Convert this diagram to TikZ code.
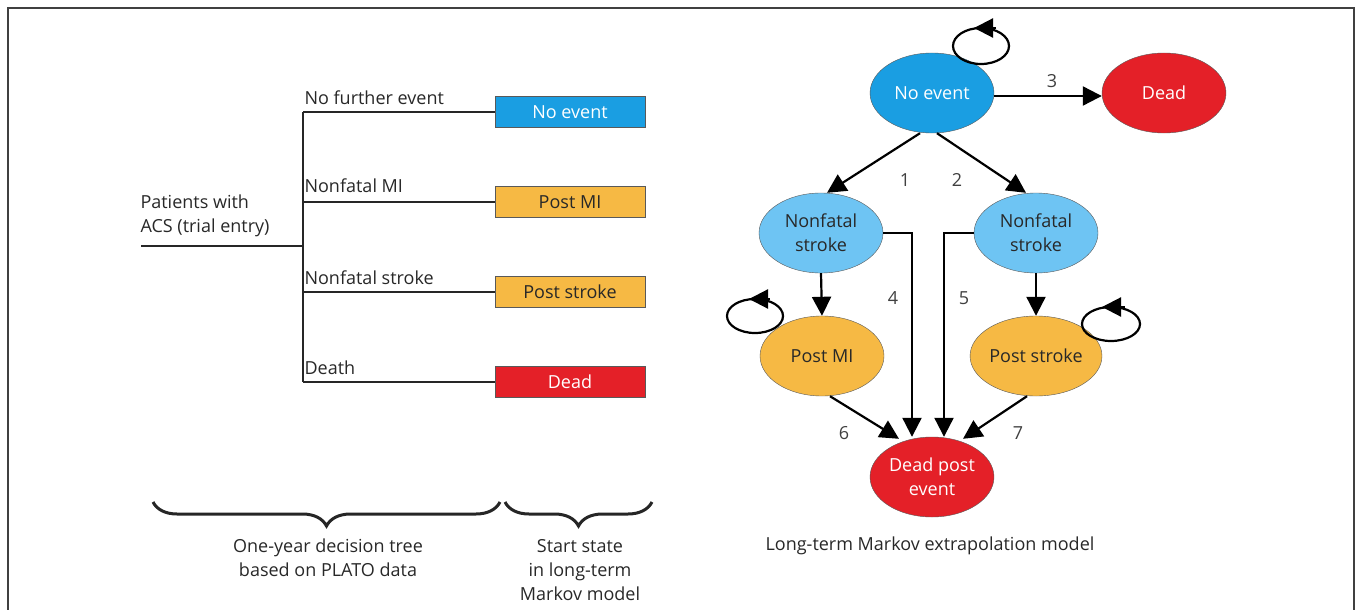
\documentclass[tikz,border=0pt]{standalone}
\usepackage{fontspec}
\setmainfont{Open Sans}
\usetikzlibrary{shapes.geometric,arrows.meta,decorations.pathreplacing,positioning,calc}

\definecolor{evblue}{RGB}{26,158,226}
\definecolor{nfblue}{RGB}{110,196,243}
\definecolor{postorange}{RGB}{246,185,68}
\definecolor{deadred}{RGB}{228,32,40}
\definecolor{txtgray}{RGB}{40,40,40}

\begin{document}
\begin{tikzpicture}[x=1pt,y=-1pt,text=txtgray,
  font=\fontsize{18}{24}\selectfont,
  startbox/.style={draw=black!65, fill=#1, rectangle, minimum width=150pt,
    minimum height=31pt, inner sep=0pt},
  mstate/.style={draw=black!65, fill=#1, ellipse, minimum width=124pt,
    minimum height=80pt, inner sep=0pt, align=center},
  treeline/.style={line width=2.2pt, draw=black!85},
  arr/.style={line width=2.2pt, -{Triangle[length=19pt,width=19pt]}},
  selfloop/.style={line width=2.2pt},
  numlabel/.style={text=black!75},
  brace/.style={decorate, decoration={brace,mirror,amplitude=24pt},
    line width=3pt, draw=black!85}]

\useasboundingbox (0,0) rectangle (1360,610);
% frame
\draw [line width=1.8pt, draw=black!75] (8,615) -- (8,8) -- (1354,8) -- (1354,615);

% decision tree
\coordinate (root) at (141,246);
\coordinate (split) at (303,246);
\node (patients) [anchor=south west, align=left] at (137,240)
  {Patients with\\ACS (trial entry)};

\node (tnoev) [startbox=evblue, text=white] at (570,112) {No event};
\node (tpmi) [startbox=postorange] at (570,202) {Post MI};
\node (tpst) [startbox=postorange] at (570,292) {Post stroke};
\node (tdead) [startbox=deadred, text=white] at (570,382) {Dead};

\draw [treeline] (root) -- (split);
\draw [treeline] (split |- tnoev) -- (split |- tdead);
\draw [treeline] (split |- tnoev) -- (tnoev.west);
\draw [treeline] (split |- tpmi) -- (tpmi.west);
\draw [treeline] (split |- tpst) -- (tpst.west);
\draw [treeline] (split |- tdead) -- (tdead.west);

\node (bnoev) [anchor=south west] at (301,108) {No further event};
\node (bpmi) [anchor=south west] at (301,196) {Nonfatal MI};
\node (bpst) [anchor=south west] at (301,288) {Nonfatal stroke};
\node (bdead) [anchor=south west] at (301,378) {Death};

% braces and captions
\draw [brace] (153,502) -- (500,502);
\draw [brace] (505,502) -- (652,502);
\node (treecap) [align=center] at (328,558)
  {One-year decision tree\\based on PLATO data};
\node (startcap) [align=center] at (580,570)
  {Start state\\in long-term\\Markov model};

% markov model
\node (noev) [mstate=evblue, text=white] at (932,93) {No event};
\node (dead) [mstate=deadred, text=white] at (1164,93) {Dead};
\node (nfl) [mstate=nfblue] at (821,233) {Nonfatal\\stroke};
\node (nfr) [mstate=nfblue] at (1036,233) {Nonfatal\\stroke};
\node (pmi) [mstate=postorange] at (822,356) {Post MI};
\node (pst) [mstate=postorange] at (1036,356) {Post stroke};
\node (dp) [mstate=deadred, text=white] at (932,477) {Dead post\\event};

\draw [arr] ([yshift=-3pt]noev.east) -- ([yshift=-3pt]dead.west);
\draw [arr] ([xshift=-12pt]noev.south) -- ([xshift=6pt]nfl.north);
\draw [arr] ([xshift=5pt]noev.south) -- ([xshift=-10pt]nfr.north);
\draw [arr] (nfl.south) -- (pmi.north);
\draw [arr] (nfr.south) -- (pst.north);
\draw [arr] (nfl.east) -| ([xshift=-20pt]dp.north);
\draw [arr] (nfr.west) -| ([xshift=12pt]dp.north);
\draw [arr] ([xshift=8pt]pmi.south) -- ([xshift=-33pt,yshift=-2pt]dp.north);
\draw [arr] ([xshift=-9pt]pst.south) -- ([xshift=31pt,yshift=-2pt]dp.north);

% self loops
\draw [selfloop] ($(noev)+(49,-47)$) ellipse [x radius=28, y radius=18];
\draw [arr] ($(noev)+(64,-65)$) -- ($(noev)+(42,-65)$);
\draw [selfloop] ($(pmi)+(-67,-40)$) ellipse [x radius=28, y radius=17];
\draw [arr] ($(pmi)+(-52,-57)$) -- ($(pmi)+(-73,-57)$);
\draw [selfloop] ($(pst)+(75,-32)$) ellipse [x radius=29, y radius=17];
\draw [arr] ($(pst)+(89,-49)$) -- ($(pst)+(66,-49)$);

\node (l1) [numlabel] at (905,180) {1};
\node (l2) [numlabel] at (957,180) {2};
\node (l3) [numlabel] at (1052,81) {3};
\node (l4) [numlabel] at (893,298) {4};
\node (l5) [numlabel] at (964,298) {5};
\node (l6) [numlabel] at (844,433) {6};
\node (l7) [numlabel] at (1018,433) {7};

\node (markovcap) at (930,546) {Long-term Markov extrapolation model};
\end{tikzpicture}
\end{document}
